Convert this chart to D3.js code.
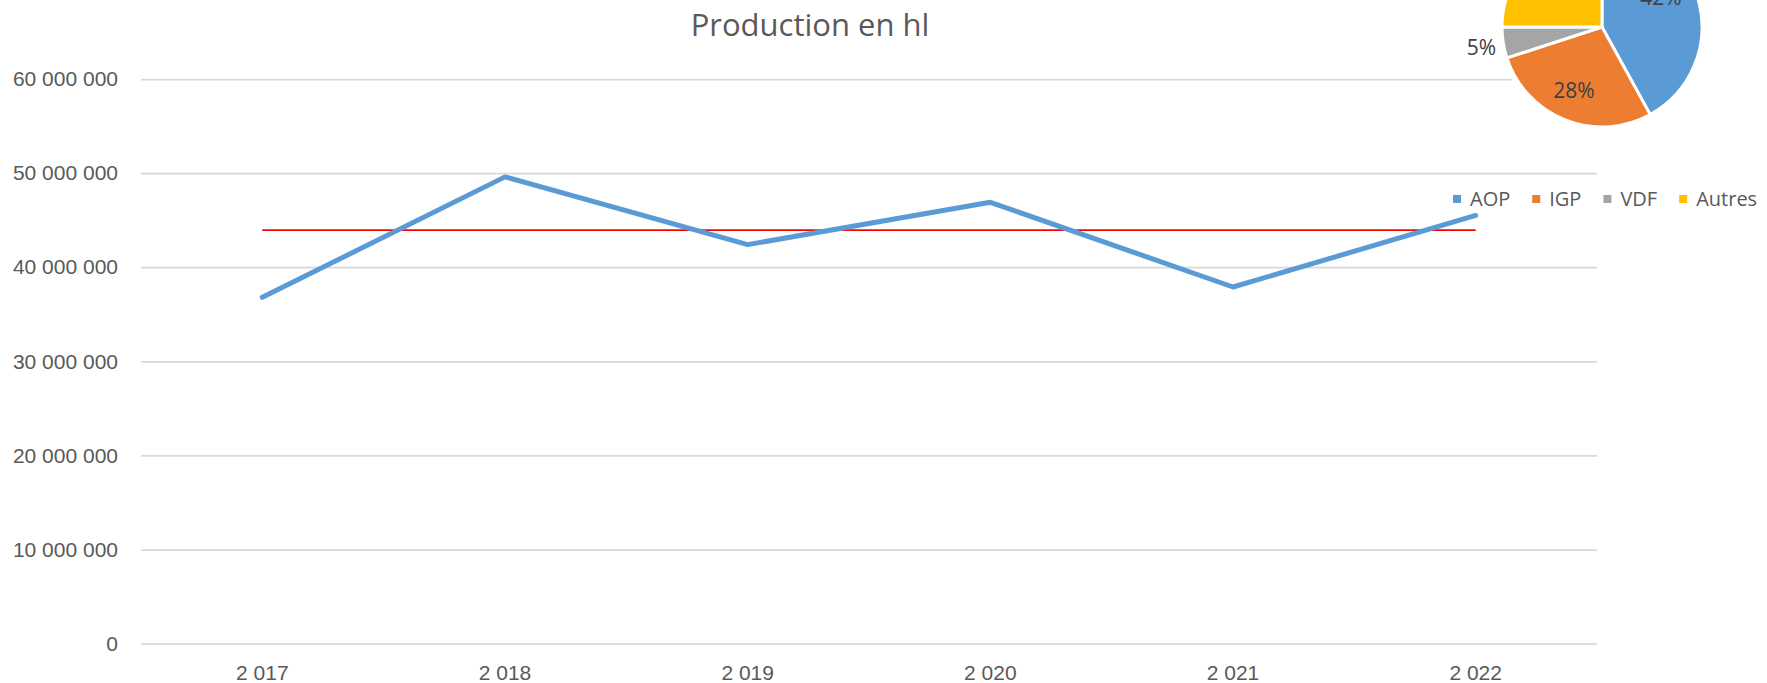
<!DOCTYPE html>
<html lang="fr">
<head>
    <meta charset="UTF-8">
    <title>Production en hl</title>
    <script src="https://d3js.org/d3.v7.min.js"></script>
    <style>
        body { margin: 0; background: #fff; }
        svg { display: block; font-family: "Open Sans", sans-serif; }
        .grid line { stroke: #d9d9d9; stroke-width: 1.75; }
        .grid .domain { display: none; }
        .axis text { fill: #595959; font-size: 21px; }
    </style>
</head>
<body>
    <div id="chart"></div>
    <script>
        // Data
        const years = [2017, 2018, 2019, 2020, 2021, 2022];
        const production = [36.8e6, 49.6e6, 42.4e6, 46.9e6, 37.9e6, 45.5e6];
        const referenceLevel = [43.95e6];
        const yTicks = [0, 10e6, 20e6, 30e6, 40e6, 50e6, 60e6];

        const pieLabels = ["AOP", "IGP", "VDF", "Autres"];
        const pieShares = [42, 28, 5, 25];
        const pieColors = ["#5b9bd5", "#ed7d31", "#a5a5a5", "#ffc000"];

        const width = 1767;
        const height = 683;
        const plot = { left: 141, right: 1597, top: 79, bottom: 643.7 };

        // French style thousands: space separator
        const fmt = v => d3.format(",")(v).replace(/,/g, " ");

        const svg = d3.select("#chart")
            .append("svg")
            .attr("width", width)
            .attr("height", height);

        const x = d3.scaleBand()
            .domain(years)
            .range([plot.left, plot.right]);

        const y = d3.scaleLinear()
            .domain([0, 60e6])
            .range([plot.bottom, plot.top]);

        // gridlines + y labels
        svg.append("g")
            .attr("class", "axis grid")
            .attr("transform", `translate(${plot.left},0)`)
            .call(d3.axisLeft(y)
                .tickValues(yTicks)
                .tickSize(-(plot.right - plot.left))
                .tickPadding(23)
                .tickFormat(fmt));

        // x labels
        const xAxis = svg.append("g")
            .attr("class", "axis")
            .attr("transform", `translate(0,${plot.bottom})`)
            .call(d3.axisBottom(x).tickSize(0).tickPadding(0).tickFormat(fmt));
        xAxis.select(".domain").remove();
        xAxis.selectAll("text").attr("y", 36).attr("dy", 0);

        const cx = d => x(d) + x.bandwidth() / 2;

        // reference line
        svg.append("line")
            .attr("x1", cx(years[0]))
            .attr("x2", cx(years[years.length - 1]))
            .attr("y1", y(referenceLevel[0]))
            .attr("y2", y(referenceLevel[0]))
            .attr("stroke", "#ff0000")
            .attr("stroke-width", 1.75);

        // production line
        const line = d3.line()
            .x((d, i) => cx(years[i]))
            .y(d => y(d));

        svg.append("path")
            .datum(production)
            .attr("d", line)
            .attr("fill", "none")
            .attr("stroke", "#5b9bd5")
            .attr("stroke-width", 5)
            .attr("stroke-linecap", "round")
            .attr("stroke-linejoin", "round");

        // title
        svg.append("text")
            .attr("x", 810)
            .attr("y", 36)
            .attr("text-anchor", "middle")
            .attr("fill", "#595959")
            .style("font-size", "31px")
            .text("Production en hl");

        // Pie chart (embedded object, white background)
        svg.append("rect")
            .attr("x", 1512)
            .attr("y", 0)
            .attr("width", width - 1512)
            .attr("height", 150)
            .attr("fill", "#fff");

        const radius = 100;
        const pieG = svg.append("g")
            .attr("transform", "translate(1602,27)");

        const pie = d3.pie().sort(null).value(d => d);
        const arc = d3.arc().innerRadius(0).outerRadius(radius);
        const labelArc = d3.arc().innerRadius(radius * 0.68).outerRadius(radius * 0.68);
        const outerLabelArc = d3.arc().innerRadius(radius * 1.22).outerRadius(radius * 1.22);
        // small "best fit" nudges like Excel does
        const labelNudge = [[-7, -12], [-3, 0], [0, 2], [0, 0]];

        const slices = pie(pieShares);

        pieG.selectAll(".slice")
            .data(slices)
            .enter()
            .append("path")
            .attr("class", "slice")
            .attr("d", arc)
            .attr("fill", (d, i) => pieColors[i])
            .attr("stroke", "#fff")
            .attr("stroke-width", 3);

        pieG.selectAll(".plabel")
            .data(slices)
            .enter()
            .append("text")
            .attr("class", "plabel")
            .attr("transform", (d, i) => {
                const c = (d.data < 10 ? outerLabelArc : labelArc).centroid(d);
                return `translate(${c[0] + labelNudge[i][0]},${c[1] + labelNudge[i][1]})`;
            })
            .attr("text-anchor", "middle")
            .attr("dy", "0.35em")
            .attr("fill", "#404040")
            .style("font-size", "21px")
            .text(d => d.data + "%");

        // legend
        const legend = svg.append("g")
            .attr("transform", "translate(1453,199)");
        let lx = 0;
        pieLabels.forEach((name, i) => {
            legend.append("rect")
                .attr("x", lx)
                .attr("y", -4)
                .attr("width", 8)
                .attr("height", 8)
                .attr("fill", pieColors[i]);
            const t = legend.append("text")
                .attr("x", lx + 17)
                .attr("y", 0)
                .attr("dy", "0.35em")
                .attr("fill", "#595959")
                .style("font-size", "20px")
                .text(name);
            lx += 17 + t.node().getComputedTextLength() + 22;
        });
    </script>
</body>
</html>
